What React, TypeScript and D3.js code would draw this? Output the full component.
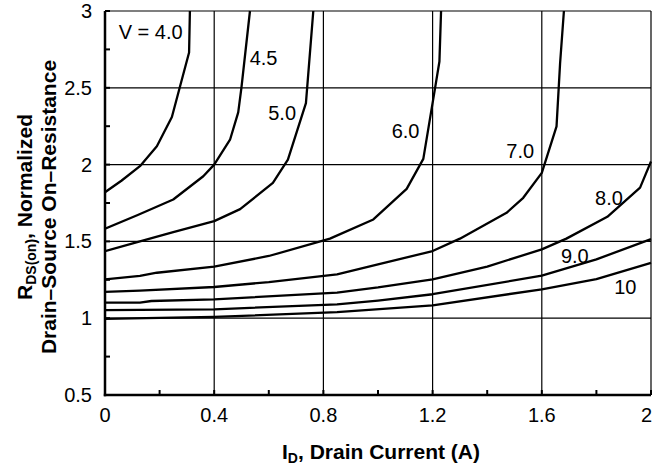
import React from "react";
import * as d3 from "d3";

const W = 653;
const H = 469;

const xTicks = [0, 0.4, 0.8, 1.2, 1.6, 2];
const xTickLabels = ["0", "0.4", "0.8", "1.2", "1.6", "2"];
const yTicks = [0.5, 1, 1.5, 2, 2.5, 3];
const yTickLabels = ["0.5", "1", "1.5", "2", "2.5", "3"];

const v40x = [0, 0.06, 0.128, 0.19, 0.245, 0.275, 0.308, 0.311];
const v40y = [1.82, 1.895, 1.99, 2.12, 2.31, 2.51, 2.73, 3.0];
const v45x = [0, 0.12, 0.25, 0.36, 0.4, 0.458, 0.488, 0.5, 0.531];
const v45y = [1.583, 1.672, 1.773, 1.924, 2.0, 2.162, 2.34, 2.505, 3.0];
const v50x = [0, 0.128, 0.25, 0.4, 0.495, 0.615, 0.67, 0.736, 0.763];
const v50y = [1.437, 1.5, 1.56, 1.632, 1.71, 1.881, 2.032, 2.4, 3.0];
const v60x = [0, 0.128, 0.19, 0.4, 0.6, 0.824, 0.983, 1.105, 1.166, 1.209, 1.225, 1.231];
const v60y = [1.253, 1.275, 1.296, 1.336, 1.405, 1.518, 1.643, 1.842, 2.037, 2.498, 2.671, 3.0];
const v70x = [0, 0.128, 0.4, 0.6, 0.85, 1.0, 1.2, 1.3, 1.471, 1.532, 1.6, 1.654, 1.667, 1.681];
const v70y = [1.171, 1.18, 1.203, 1.235, 1.286, 1.35, 1.437, 1.518, 1.686, 1.784, 1.946, 2.249, 2.66, 3.0];
const v80x = [0, 0.128, 0.17, 0.4, 0.85, 1.0, 1.2, 1.4, 1.6, 1.69, 1.84, 1.96, 2.0];
const v80y = [1.102, 1.102, 1.112, 1.122, 1.167, 1.2, 1.253, 1.336, 1.448, 1.518, 1.66, 1.85, 2.02];
const v90x = [0, 0.128, 0.4, 0.85, 1.0, 1.2, 1.6, 1.8, 2.0];
const v90y = [1.052, 1.054, 1.058, 1.09, 1.115, 1.156, 1.277, 1.383, 1.515];
const v10x = [0, 0.4, 0.85, 1.2, 1.6, 1.8, 2.0];
const v10y = [0.995, 1.008, 1.04, 1.084, 1.188, 1.255, 1.36];

const seriesX = [v40x, v45x, v50x, v60x, v70x, v80x, v90x, v10x];
const seriesY = [v40y, v45y, v50y, v60y, v70y, v80y, v90y, v10y];

const curveLabels = ["V = 4.0", "4.5", "5.0", "6.0", "7.0", "8.0", "9.0", "10"];
const labelX = [0.05, 0.53, 0.598, 1.05, 1.47, 1.795, 1.67, 1.865];
const labelY = [2.82, 2.65, 2.29, 2.17, 2.04, 1.74, 1.36, 1.16];

const margin = { left: 105, right: 2, top: 11, bottom: 74 };

export default function App() {
  const x = d3.scaleLinear().domain([0, 2]).range([margin.left, W - margin.right]);
  const y = d3.scaleLinear().domain([0.5, 3]).range([H - margin.bottom, margin.top]);
  const line = d3
    .line<[number, number]>()
    .x((d) => x(d[0]))
    .y((d) => y(d[1]))
    .curve(d3.curveLinear);

  const font = "'Liberation Sans', Arial, Helvetica, sans-serif";
  const x0 = x(0), x1 = x(2), y0 = y(0.5), y1 = y(3);
  const minorX = d3.range(0, 2.0001, 0.2);
  const minorY = d3.range(0.5, 3.0001, 0.25);

  return (
    <svg
      width={W}
      height={H}
      viewBox={`0 0 ${W} ${H}`}
      style={{ position: "absolute", left: 0, top: 0, background: "#fff" }}
      fontFamily={font}
    >
      <rect x={0} y={0} width={W} height={H} fill="#fff" />
      <defs>
        <clipPath id="plot">
          <rect x={x0} y={y1 - 1} width={x1 - x0 + 1} height={y0 - y1 + 1} />
        </clipPath>
      </defs>
      {xTicks.slice(1).map((t) => (
        <line key={"gx" + t} x1={x(t)} x2={x(t)} y1={y0} y2={y1} stroke="#000" strokeWidth={1.2} />
      ))}
      {yTicks.slice(1).map((t) => (
        <line key={"gy" + t} x1={x0} x2={x1} y1={y(t)} y2={y(t)} stroke="#000" strokeWidth={1.2} />
      ))}
      {minorX.map((t) => (
        <line key={"mx" + t} x1={x(t)} x2={x(t)} y1={y0} y2={y0 - 5} stroke="#000" strokeWidth={2} />
      ))}
      {minorY.map((t) => (
        <line key={"my" + t} x1={x0} x2={x0 + 5} y1={y(t)} y2={y(t)} stroke="#000" strokeWidth={2} />
      ))}
      <line x1={x0} x2={x0} y1={y1} y2={y0 + 1.2} stroke="#000" strokeWidth={2.5} />
      <line x1={x0 - 1.2} x2={x1} y1={y0} y2={y0} stroke="#000" strokeWidth={2.5} />
      <g clipPath="url(#plot)">
        {seriesX.map((xs, i) => {
          const pts = xs.map((v, j) => [v, seriesY[i][j]] as [number, number]);
          return (
            <path key={"c" + i} d={line(pts) || ""} fill="none" stroke="#000" strokeWidth={2.3} strokeLinejoin="round" />
          );
        })}
      </g>
      {curveLabels.map((l, i) => (
        <text key={"l" + i} x={x(labelX[i])} y={y(labelY[i])} fontSize={20} fill="#000">
          {l}
        </text>
      ))}
      {xTicks.map((t, i) => (
        <text
          key={"tx" + t}
          x={i === xTicks.length - 1 ? W - 1 : x(t)}
          y={422}
          fontSize={20}
          textAnchor={i === xTicks.length - 1 ? "end" : "middle"}
          fill="#000"
        >
          {xTickLabels[i]}
        </text>
      ))}
      {yTicks.map((t, i) => (
        <text key={"ty" + t} x={92} y={y(t) + 7} fontSize={20} textAnchor="end" fill="#000">
          {yTickLabels[i]}
        </text>
      ))}
      <text x={381} y={459} fontSize={21} fontWeight="bold" textAnchor="middle" fill="#000">
        I<tspan dy={4} fontSize={14}>D</tspan>
        <tspan dy={-4}>, Drain Current (A)</tspan>
      </text>
      <g transform={`translate(32, 207) rotate(-90)`}>
        <text x={0} y={0} fontSize={21} fontWeight="bold" textAnchor="middle" fill="#000">
          R<tspan dy={4} fontSize={14}>DS(on)</tspan>
          <tspan dy={-4}>, Normalized</tspan>
        </text>
        <text x={0} y={24} fontSize={21} fontWeight="bold" textAnchor="middle" fill="#000">
          Drain–Source On–Resistance
        </text>
      </g>
    </svg>
  );
}
